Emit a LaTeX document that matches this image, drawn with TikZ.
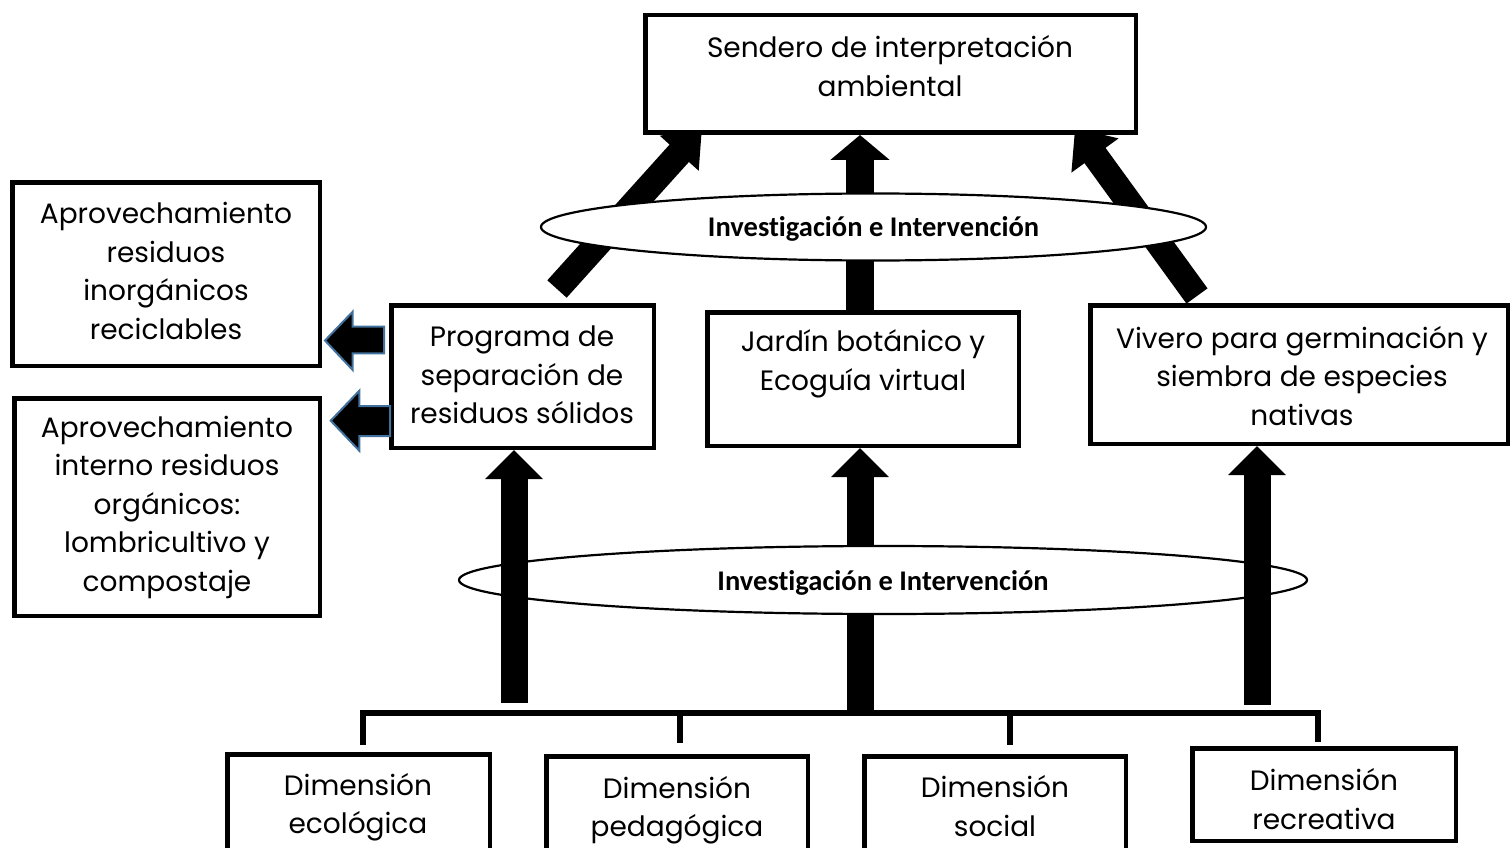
\documentclass[tikz,border=0pt]{standalone}
\usepackage{fontspec}
\setmainfont{Poppins}
\newfontfamily\elfont[Ligatures=NoCommon]{Carlito}
\usetikzlibrary{arrows.meta,shapes.geometric,calc}
\definecolor{blueedge}{HTML}{41719C}
\begin{document}
\begin{tikzpicture}[x=1pt,y=-1pt,
  box/.style={draw,line width=4.5pt,fill=white,inner sep=0pt},
  txt/.style={align=center,inner sep=0pt,font=\fontsize{28}{38.5}\selectfont},
  oval/.style={ellipse,draw,line width=2.2pt,fill=white,inner sep=0pt},
  ovtxt/.style={inner sep=0pt,font=\elfont\bfseries\fontsize{28.5}{30}\selectfont},
  fatd/.style={line width=26pt,-{Triangle[width=50pt,length=34pt]}},
  fatv/.style={line width=28pt,-{Triangle[width=58pt,length=25pt]}},
  fatb/.style={line width=27pt,-{Triangle[width=56pt,length=29pt]}},
  blockarrow/.style={fill=black,draw=blueedge,line width=2pt,line join=miter},
  bracket/.style={line width=5.5pt}
]
\useasboundingbox (0,0) rectangle (1510,848);
\clip (0,0) rectangle (1510,848);

% box positions (frames drawn later)
\path
  node[box,minimum width=490.5pt,minimum height=117.5pt,draw=none,fill=none] (top) at (890.5,74) {}
  node[box,minimum width=262.5pt,minimum height=142.5pt,draw=none,fill=none] (prog) at (522.5,376.5) {}
  node[box,minimum width=311.5pt,minimum height=133.5pt,draw=none,fill=none] (jardin) at (863,379) {}
  node[box,minimum width=417.5pt,minimum height=138.5pt,draw=none,fill=none] (vivero) at (1299,374.5) {};

% coordinates for arrow tails / tips
\coordinate (dlt) at (557,289);
\coordinate (dlh) at (702,128);
\coordinate (drt) at (1197,296);
\coordinate (drh) at (1075,128);
\coordinate (bl) at (514,703);
\coordinate (bm) at (860,710);
\coordinate (br) at (1257,705);

% upper arrows
\draw[fatd] (dlt) -- (dlh);
\draw[fatd,-{Triangle[width=56pt,length=34pt]}] (drt) -- (drh);
\draw[fatv] (jardin.north -| bm) -- (top.south -| bm);

\node[oval,minimum width=665pt,minimum height=67pt] (ov1) at (873.5,227) {};
\node[ovtxt] (ov1t) at (873.5,229) {Investigación e Intervención};

\draw[fatb] (bm) -- (jardin.south -| bm);

\node[oval,minimum width=848pt,minimum height=68pt] (ov2) at (883,580) {};

\draw[fatb] (bl) -- (prog.south -| bl);
\draw[fatb] (br) -- (vivero.south -| br);

\node[ovtxt] (ov2t) at (883,583) {Investigación e Intervención};

% boxes
\node[box,minimum width=490.5pt,minimum height=117.5pt] (topb) at (890.5,74) {};
\node[box,minimum width=307.5pt,minimum height=183.5pt] (l1) at (166,274) {};
\node[box,minimum width=305.5pt,minimum height=217.5pt] (l2) at (167,507) {};
\node[box,minimum width=262.5pt,minimum height=142.5pt] (progb) at (522.5,376.5) {};
\node[box,minimum width=311.5pt,minimum height=133.5pt] (jardinb) at (863,379) {};
\node[box,minimum width=417.5pt,minimum height=138.5pt] (viverob) at (1299,374.5) {};
\node[box,minimum width=262.5pt,minimum height=99.5pt] (eco) at (358.5,804) {};
\node[box,minimum width=261.5pt,minimum height=99.5pt] (ped) at (677,806) {};
\node[box,minimum width=261.5pt,minimum height=99.5pt] (soc) at (995,806) {};
\node[box,minimum width=263.5pt,minimum height=92.5pt] (rec) at (1324,794.5) {};

% texts
\node[txt] (topt) at (890,66) {Sendero de interpretación\\ambiental};
\node[txt] (l1t) at (166,271) {Aprovechamiento\\residuos\\inorgánicos\\reciclables};
\node[txt] (l2t) at (167,507) {Aprovechamiento\\interno residuos\\orgánicos:\\lombricultivo y\\compostaje};
\node[txt] (progt) at (522,375) {Programa de\\separación de\\residuos sólidos};
\node[txt] (jardint) at (863,364) {Jardín botánico y\\Ecoguía virtual};
\node[txt] (vivt) at (1302,376) {Vivero para germinación y\\siembra de especies\\nativas};
\node[txt] (ecot) at (358,807) {Dimensión\\ecológica};
\node[txt] (pedt) at (677,810) {Dimensión\\pedagógica};
\node[txt] (soct) at (995,806) {Dimensión\\social};
\node[txt] (rect) at (1324,799) {Dimensión\\recreativa};

% small block arrows pointing left
\draw[blockarrow] (384,326.7) -- (352.7,326.7) -- (352.7,311.7) -- (325,340.5) -- (352.7,370) -- (352.7,353.3) -- (384,353.3) -- cycle;
\draw[blockarrow] (390,406) -- (359.3,406) -- (359.3,390.7) -- (330.7,420.7) -- (359.3,450.7) -- (359.3,436) -- (390,436) -- cycle;

% bracket
\coordinate (bk1) at (363,713);
\coordinate (bk2) at (680,713);
\coordinate (bk3) at (1010,713);
\coordinate (bk4) at (1318,713);
\draw[bracket] ($(eco.north)+(4.5,-7)$) -- (bk1) -- (bk4) -- ($(rec.north)+(-6,-4)$);
\draw[bracket] (bk2) -- ($(ped.north)+(3,-11)$);
\draw[bracket] (bk3) -- ($(soc.north)+(15,-9)$);
\end{tikzpicture}
\end{document}
